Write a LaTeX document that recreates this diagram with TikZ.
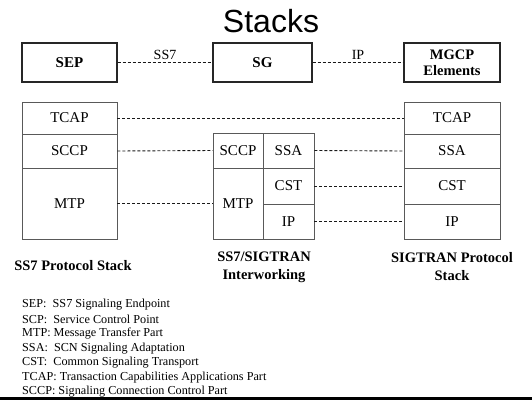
\documentclass[tikz,border=0pt]{standalone}
\usepackage{fontspec}
\setmainfont{Liberation Serif}
\newfontfamily\titlefont{Liberation Sans}
\begin{document}
\begin{tikzpicture}[x=1pt,y=-1pt,
  topbox/.style={draw=black!85,line width=1.4pt,fill=white,minimum height=39pt,inner sep=0pt,font=\fontsize{15}{16}\selectfont\bfseries,align=center},
  layer/.style={draw=black!65,line width=0.9pt,inner sep=0pt,font=\fontsize{15}{16}\selectfont},
  link/.style={draw=black!90,line width=0.9pt,dash pattern=on 3pt off 2pt},
  caption/.style={font=\fontsize{14.5}{18}\selectfont\bfseries,align=center},
  legend/.style={font=\fontsize{12.2}{13}\selectfont,anchor=west,inner sep=0pt}]
\useasboundingbox (0,0) rectangle (532,400);
\fill[white] (0,0) rectangle (532,400);
\node[font=\titlefont\fontsize{32}{34}\selectfont] (title) at (271,21) {Stacks};
% top row
\node[topbox,minimum width=95pt] (sep) at (69.5,62.5) {SEP};
\node[topbox,minimum width=99pt] (sg) at (262.5,62.5) {SG};
\node[topbox,minimum width=96pt,font=\fontsize{14.5}{16}\selectfont\bfseries] (mgcp) at (452,62.5) {MGCP\\Elements};
\draw[link] (sep.east) -- node[above=-1pt,font=\fontsize{14}{15}\selectfont] {SS7} (sg.west);
\draw[link] (sg.east) -- node[above=-1pt,font=\fontsize{14}{15}\selectfont] {IP} (mgcp.west);
% left stack
\node[layer,minimum width=95pt,minimum height=32pt] (ltcap) at (69.5,118) {TCAP};
\node[layer,minimum width=95pt,minimum height=34pt] (lsccp) at (69.5,151) {SCCP};
\node[layer,minimum width=95pt,minimum height=71pt] (lmtp) at (69.5,203.5) {MTP};
% middle stack
\node[layer,minimum width=50pt,minimum height=35pt] (msccp) at (238,150.5) {SCCP};
\node[layer,minimum width=50pt,minimum height=71pt] (mmtp) at (238,203.5) {MTP};
\node[layer,minimum width=51pt,minimum height=35pt] (mssa) at (288.5,150.5) {SSA};
\node[layer,minimum width=51pt,minimum height=36pt] (mcst) at (288.5,186) {CST};
\node[layer,minimum width=51pt,minimum height=35pt] (mip) at (288.5,221.5) {IP};
% right stack
\node[layer,minimum width=96pt,minimum height=32pt] (rtcap) at (452,118) {TCAP};
\node[layer,minimum width=96pt,minimum height=34pt] (rssa) at (452,151) {SSA};
\node[layer,minimum width=96pt,minimum height=36pt] (rcst) at (452,186) {CST};
\node[layer,minimum width=96pt,minimum height=35pt] (rip) at (452,221.5) {IP};
% connectors
\draw[link] (ltcap.east) -- (rtcap.west);
\draw[link] (lsccp.east) -- (msccp.west);
\draw[link] (lmtp.east) -- (mmtp.west);
\draw[link] (mssa.east) -- (rssa.west);
\draw[link] (mcst.east) -- (rcst.west);
\draw[link] (mip.east) -- (rip.west);
% captions
\node[caption] (cl) at (73,266) {SS7 Protocol Stack};
\node[caption] (cm) at (264,267) {SS7/SIGTRAN\\Interworking};
\node[caption] (cr) at (452,267) {SIGTRAN Protocol\\Stack};
% legend
\node[legend] (l1) at (22,305) {SEP:\ \ SS7 Signaling Endpoint};
\node[legend] (l2) at (22,319.5) {SCP:\ \ Service Control Point};
\node[legend] (l3) at (22,334) {MTP: Message Transfer Part};
\node[legend] (l4) at (22,348.5) {SSA:\ \ SCN Signaling Adaptation};
\node[legend] (l5) at (22,363) {CST:\ \ Common Signaling Transport};
\node[legend] (l6) at (22,377.5) {TCAP: Transaction Capabilities Applications Part};
\node[legend] (l7) at (22,392) {SCCP: Signaling Connection Control Part};
\fill[black] (0,397) rectangle (532,400);
\end{tikzpicture}
\end{document}
